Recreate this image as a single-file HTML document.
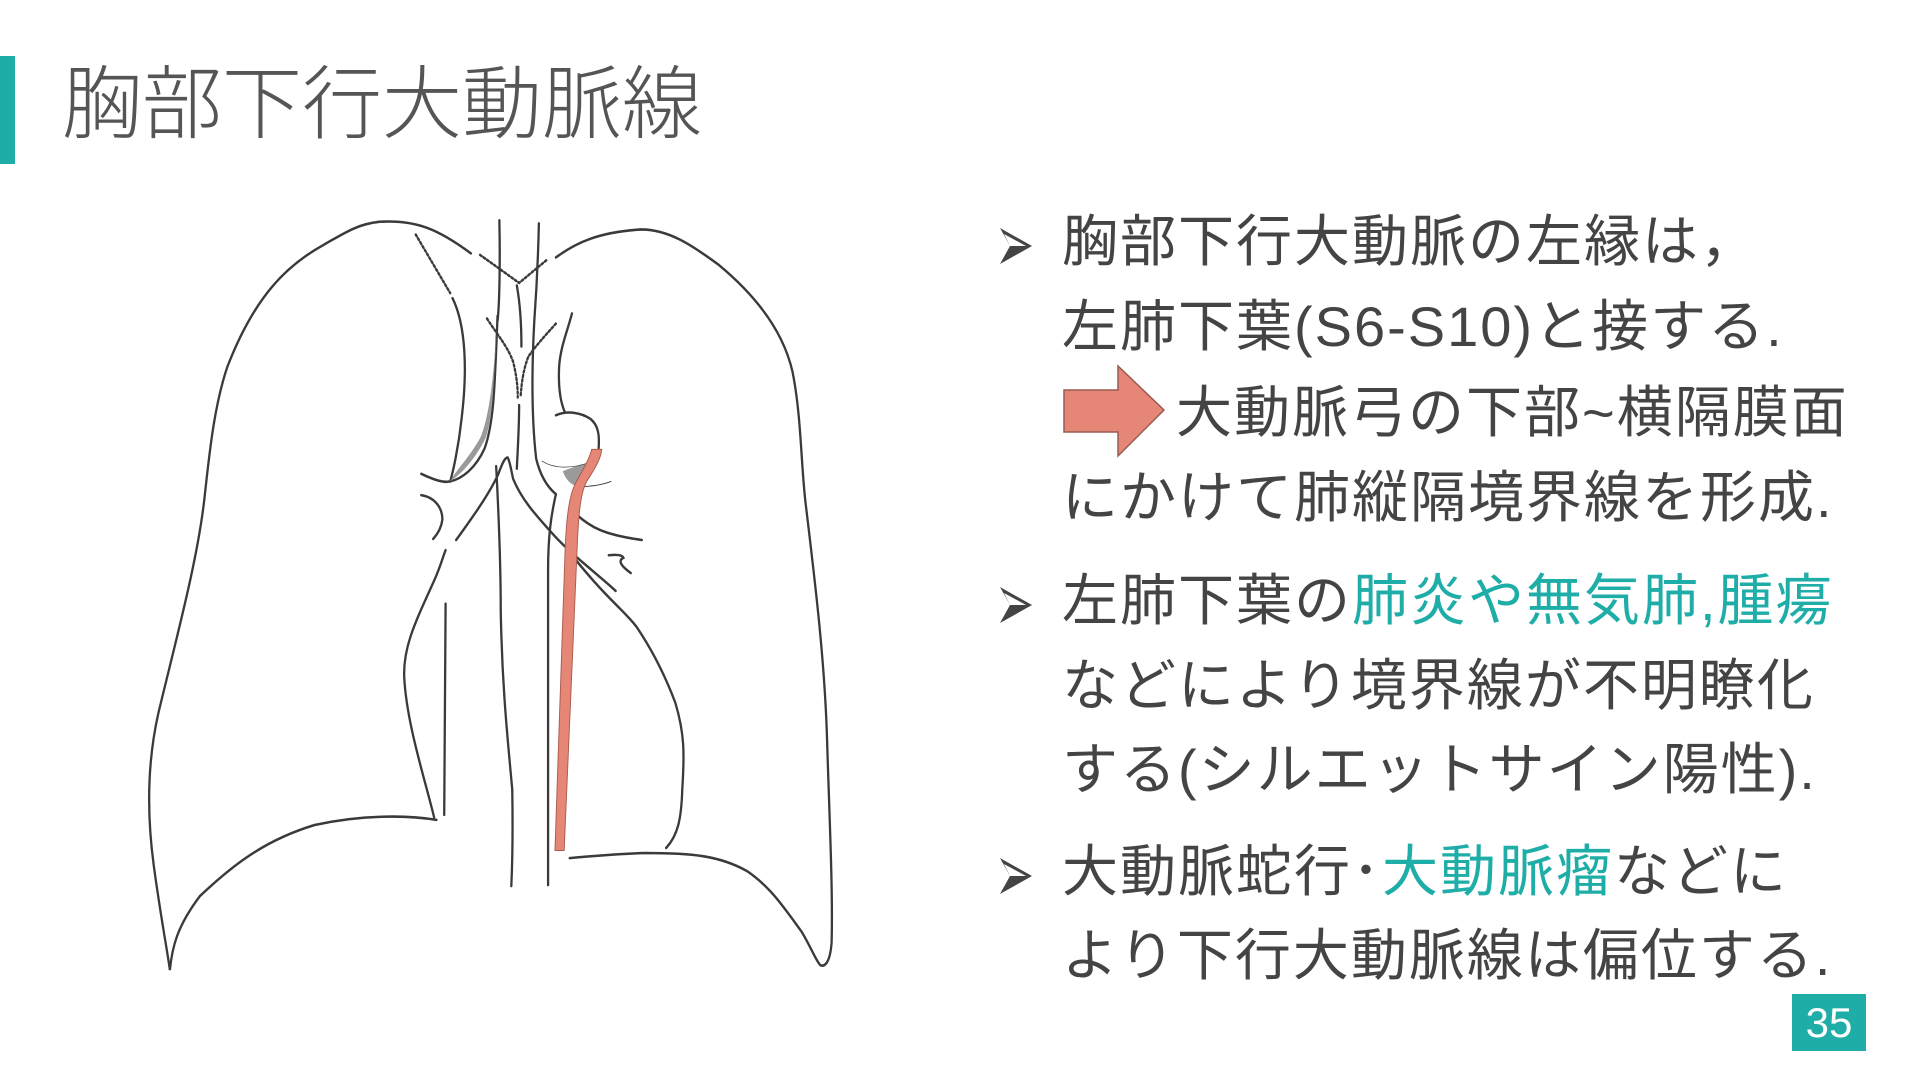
<!DOCTYPE html>
<html><head><meta charset="utf-8"><style>
body{margin:0;width:1920px;height:1080px;background:#fff;position:relative;overflow:hidden;font-family:"Liberation Sans","Noto Sans CJK JP",sans-serif;color:#444}
.bar{position:absolute;left:0;top:56px;width:15px;height:108px;background:#1fada8}
.title{position:absolute;left:62px;top:40px;font-size:80px;font-weight:300;color:#555;white-space:nowrap}
.line{position:absolute;left:1062px;font-size:56px;white-space:nowrap;line-height:1;letter-spacing:2px}
.tri{position:absolute;left:998px;width:36px;height:40px}
.t{color:#1fada8}
.pg{position:absolute;width:74px;height:57px;background:#1fada8;color:#fff;font-size:42px;text-align:center;line-height:57px}
</style></head><body>
<div class="bar"></div>
<div class="title">胸部下行大動脈線</div>

<svg class="tri" style="top:226px" viewBox="0 0 36 40"><polygon points="2,2 34,20 2,38 12,20" fill="#444"/><polygon points="6,8 28,20 12,20" fill="#fff"/></svg>
<svg class="tri" style="top:585px" viewBox="0 0 36 40"><polygon points="2,2 34,20 2,38 12,20" fill="#444"/><polygon points="6,8 28,20 12,20" fill="#fff"/></svg>
<svg class="tri" style="top:856px" viewBox="0 0 36 40"><polygon points="2,2 34,20 2,38 12,20" fill="#444"/><polygon points="6,8 28,20 12,20" fill="#fff"/></svg>

<div class="line" style="top:214px">胸部下行大動脈の左縁は，</div>
<div class="line" style="top:299px">左肺下葉(S6-S10)と接する.</div>
<svg style="position:absolute;left:1060px;top:364px" width="112" height="98" viewBox="0 0 112 98"><polygon points="4,26 58,26 58,2 104,46 58,92 58,68 4,68" fill="#e58676" stroke="#9a5a50" stroke-width="1.5"/></svg>
<div class="line" style="top:385px;left:1176px">大動脈弓の下部~横隔膜面</div>
<div class="line" style="top:470px">にかけて肺縦隔境界線を形成.</div>
<div class="line" style="top:573px">左肺下葉の<span class="t">肺炎や無気肺,腫瘍</span></div>
<div class="line" style="top:658px">などにより境界線が不明瞭化</div>
<div class="line" style="top:742px">する(シルエットサイン陽性).</div>
<div class="line" style="top:844px">大動脈蛇行･<span class="t">大動脈瘤</span>などに</div>
<div class="line" style="top:928px">より下行大動脈線は偏位する.</div>
<div class="pg" style="left:1792px;top:994px">35</div>

<svg style="position:absolute;left:140px;top:204px" width="710" height="874" viewBox="0 0 1545 1717" preserveAspectRatio="none" fill="none" stroke="#3a3a3a" stroke-width="5" stroke-linecap="round">
<path d="M720,97 C650,50 600,30 520,35 C470,40 440,60 400,80 C320,120 250,180 190,320 C160,400 150,500 140,580 C125,700 80,850 40,1000 C15,1100 15,1200 30,1300 C45,1400 60,1470 65,1505 C70,1460 80,1420 130,1360 C200,1300 270,1250 380,1220 C480,1200 580,1200 645,1210"/>
<path d="M640,1205 C620,1130 580,1020 575,930 C572,870 600,820 640,740 C655,710 660,690 665,680"/>
<path d="M680,185 C710,240 712,330 700,420 C693,480 680,530 675,545"/>
<path d="M612,530 C640,542 660,548 675,545 C700,540 730,520 750,480 C770,430 772,360 778,220" />
<path d="M675,545 C700,530 730,500 752,460 C768,420 770,340 778,220 C770,340 760,420 740,460 C715,500 690,520 675,545Z" fill="#9a9a9a" stroke="none"/>
<path d="M600,60 L675,175" stroke-dasharray="4 5"/>
<path d="M782,32 C784,120 782,200 778,230"/>
<path d="M868,38 C866,120 862,180 858,230 C852,330 852,420 862,500 C870,530 885,555 905,570"/>
<path d="M820,160 C828,200 830,240 830,280"/>
<path d="M825,395 C825,440 822,480 820,520"/>
<path d="M740,100 L825,155 L885,110" stroke-dasharray="4 5"/>
<path d="M755,225 C780,260 800,280 812,310 C820,340 822,360 822,380" stroke-dasharray="4 5"/>
<path d="M905,235 C880,260 860,280 845,300 C832,330 830,360 828,380" stroke-dasharray="4 5"/>
<path d="M905,105 C950,75 1000,55 1090,50 C1150,50 1200,80 1260,120 C1340,180 1400,250 1420,330 C1440,420 1438,520 1450,600 C1470,750 1490,900 1495,1050 C1500,1200 1508,1350 1505,1450 C1502,1490 1490,1500 1480,1495 C1470,1485 1460,1460 1440,1430 C1400,1380 1370,1340 1320,1310 C1260,1280 1200,1275 1100,1275 C1030,1277 970,1282 935,1285"/>
<path d="M1145,1265 C1170,1240 1178,1210 1180,1150 C1185,1080 1185,1040 1165,980 C1140,920 1110,870 1080,830 C1050,795 1020,780 940,690"/>
<path d="M940,215 C930,250 915,280 912,320 C910,360 915,390 925,410"/>
<path d="M905,415 C930,405 960,410 980,422 C998,435 1000,455 998,480"/>
<path d="M905,570 C895,610 888,650 888,720 L888,1338"/>
<path d="M775,515 C780,600 785,700 785,800 C788,950 800,1050 810,1150 C812,1250 810,1300 808,1340"/>
<path d="M612,572 C640,576 658,595 658,620 C656,635 648,648 638,658"/>
<path d="M688,660 C720,620 760,570 780,530 C790,505 795,498 800,498 C805,505 808,525 812,540 C830,580 860,610 900,650 C940,690 1000,730 1035,760"/>
<path d="M1020,690 C1040,688 1050,690 1052,695 C1040,700 1045,710 1068,725"/>
<path d="M950,610 C980,635 1010,650 1092,660"/>
<path d="M665,785 L662,1200"/>
<path d="M920,525 C945,515 965,512 975,508 C968,530 962,545 955,556 C940,552 928,545 920,525Z" fill="#9a9a9a" stroke="none"/>
<path d="M875,505 C900,520 940,522 985,505" stroke-width="1.5"/>
<path d="M945,555 C980,556 1005,552 1025,545" stroke-width="2"/>
<path d="M983,482 L1005,482 C1003,500 990,520 972,545 C960,565 955,600 952,660 L923,1270 L903,1270 L925,680 C928,610 935,570 948,548 C965,520 978,500 983,482Z" fill="#e58676" stroke="#a85a4c" stroke-width="2"/>
</svg>
</body></html>
